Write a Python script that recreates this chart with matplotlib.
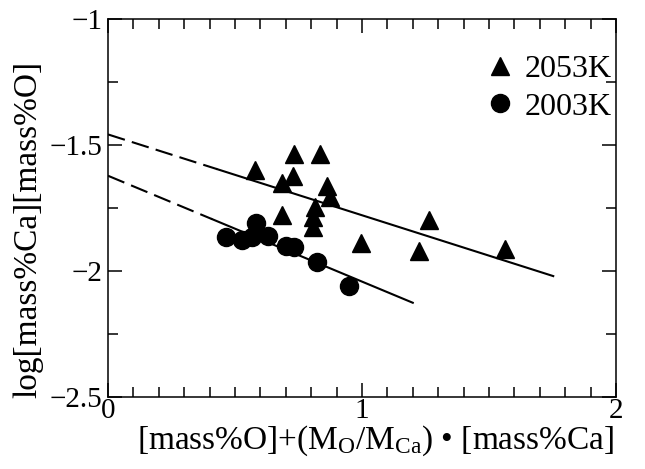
import numpy as np
import matplotlib
matplotlib.use('Agg')
import matplotlib.pyplot as plt
from matplotlib.ticker import MultipleLocator

plt.rcParams['font.family'] = ['Liberation Serif', 'DejaVu Serif']
plt.rcParams['mathtext.fontset'] = 'custom'
plt.rcParams['mathtext.rm'] = 'Liberation Serif'
plt.rcParams['mathtext.it'] = 'Liberation Serif:italic'

# 2053K (triangles)
x_2053 = [0.579, 0.733, 0.835, 0.730, 0.684, 0.861, 0.874, 0.815, 0.808, 0.808,
          0.684, 1.265, 0.995, 1.224, 1.563]
y_2053 = [-1.599, -1.536, -1.536, -1.623, -1.652, -1.663, -1.705, -1.747, -1.785, -1.824,
          -1.778, -1.798, -1.890, -1.919, -1.914]

# 2003K (circles)
x_2003 = [0.463, 0.529, 0.568, 0.581, 0.631, 0.701, 0.732, 0.824, 0.950]
y_2003 = [-1.866, -1.878, -1.866, -1.811, -1.861, -1.901, -1.903, -1.966, -2.058]

# fitted lines: intercept, slope, start of solid part, end
fit_2053 = (-1.458, -0.3207, 0.43, 1.753)
fit_2003 = (-1.622, -0.420, 0.41, 1.20)

fig = plt.figure(figsize=(6.45, 4.69), dpi=100)
ax = fig.add_axes([0.1674, 0.1535, 0.955 - 0.1674, 0.9595 - 0.1535])

for b, m, xs, xe in [fit_2053, fit_2003]:
    xd = np.array([0, xs])
    ax.plot(xd, b + m * xd, color='black', lw=1.5, linestyle=(0, (8.5, 3.5)))
    xl = np.array([xs, xe])
    ax.plot(xl, b + m * xl, color='black', lw=1.5)

ax.plot(x_2053, y_2053, linestyle='none', marker='^', color='black', ms=13, label='2053K')
ax.plot(x_2003, y_2003, linestyle='none', marker='o', color='black', ms=13, label='2003K')

ax.legend(loc='upper right', frameon=False, fontsize=23, handlelength=0.8,
          handletextpad=0.35, labelspacing=0.25, borderaxespad=0.3,
          bbox_to_anchor=(1.035, 0.964))

ax.set_xlim(0, 2)
ax.set_ylim(-2.5, -1)
ax.xaxis.set_major_locator(MultipleLocator(1))
ax.xaxis.set_minor_locator(MultipleLocator(0.1))
ax.yaxis.set_major_locator(MultipleLocator(0.5))
ax.yaxis.set_minor_locator(MultipleLocator(0.25))
ax.xaxis.set_major_formatter(plt.FuncFormatter(lambda v, p: f'{v:g}'))
ax.yaxis.set_major_formatter(plt.FuncFormatter(lambda v, p: f'\u2212{abs(v):g}' if v < 0 else f'{v:g}'))

ax.tick_params(which='both', direction='in', top=True, right=True, width=1.1, labelsize=21)
ax.tick_params(which='major', length=10)
ax.tick_params(which='minor', length=7)
ax.tick_params(axis='x', pad=1)
ax.tick_params(axis='y', pad=4)
for s in ax.spines.values():
    s.set_linewidth(1.1)

ax.set_xlabel('[mass%O]+(M$_{\\rm O}$/M$_{\\rm Ca}$) \u2022 [mass%Ca]', fontsize=24)
ax.set_ylabel('log[mass%Ca][mass%O]', fontsize=24)
ax.xaxis.set_label_coords(0.526, -0.069)
ax.yaxis.set_label_coords(-0.128, 0.442)

fig.savefig('out.png', dpi=100)
